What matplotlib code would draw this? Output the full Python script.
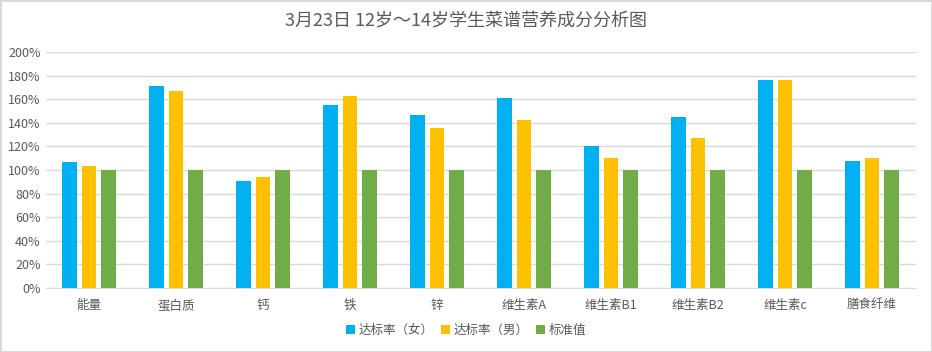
import numpy as np
import matplotlib
matplotlib.use("Agg")
import matplotlib.pyplot as plt
from matplotlib.ticker import PercentFormatter

plt.rcParams['font.family'] = ['Noto Sans CJK SC', 'DejaVu Sans']

categories = ['能量', '蛋白质', '钙', '铁', '锌', '维生素A', '维生素B1', '维生素B2', '维生素c', '膳食纤维']
female = [107, 171, 91, 155, 147, 161, 120, 145, 176.5, 108]
male = [103.5, 167, 94, 163, 136, 142, 110.5, 127.5, 176.5, 110.5]
standard = [100, 100, 100, 100, 100, 100, 100, 100, 100, 100]
series_names = ['达标率（女）', '达标率（男）', '标准值']
colors = ['#00B0F0', '#FFC000', '#70AD47']
title = '3月23日 12岁～14岁学生菜谱营养成分分析图'

fig = plt.figure(figsize=(9.32, 3.52), dpi=100)
fig.patch.set_edgecolor('#D9D9D9')
fig.patch.set_linewidth(2)
ax = fig.add_axes([45.5 / 932, 1 - 288 / 352, 870 / 932, 236 / 352])

x = np.arange(len(categories))
w = 0.172
step = 0.224
for i, (vals, name, c) in enumerate(zip([female, male, standard], series_names, colors)):
    ax.bar(x + (i - 1) * step, vals, width=w, color=c, label=name, zorder=3)

ax.set_xlim(-0.5, len(categories) - 0.5)
ax.set_ylim(0, 200)
ax.set_yticks(np.arange(0, 201, 20))
ax.yaxis.set_major_formatter(PercentFormatter(decimals=0))
ax.set_xticks(x)
ax.set_xticklabels(categories)
ax.grid(axis='y', color='#D9D9D9', linewidth=1, zorder=0)
for s in ['top', 'right', 'left']:
    ax.spines[s].set_visible(False)
ax.spines['bottom'].set_color('#D9D9D9')
ax.tick_params(axis='both', length=0, colors='#595959', labelsize=9)
ax.tick_params(axis='x', pad=8)

fig.text(0.5, 1 - 22 / 352, title, ha='center', va='center', fontsize=13, color='#595959')

fig.legend(loc='center', bbox_to_anchor=(0.5, 1 - 330 / 352), ncol=3, frameon=False,
           fontsize=9, handlelength=0.7, handleheight=0.7, handletextpad=0.3,
           columnspacing=0.6, labelcolor='#595959')

fig.savefig('out.png', dpi=100)
